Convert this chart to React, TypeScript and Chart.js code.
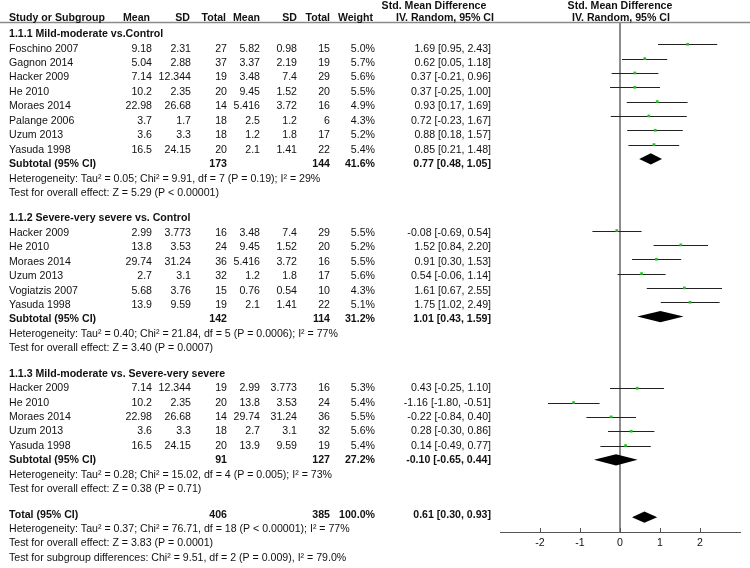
import React, { useEffect, useRef } from "react";
import { Chart, registerables } from "chart.js";
Chart.register(...registerables);

const FONT = '"Liberation Sans", Arial, sans-serif';
const FS = 10.6;

// ---------- data ----------
const groupLabels = [
  "1.1.1 Mild-moderate vs.Control",
  "1.1.2 Severe-very severe vs. Control",
  "1.1.3 Mild-moderate vs. Severe-very severe",
];
const studyGroup = [0, 0, 0, 0, 0, 0, 0, 0, 1, 1, 1, 1, 1, 1, 2, 2, 2, 2, 2];
const studyNames = [
  "Foschino 2007", "Gagnon 2014", "Hacker 2009", "He 2010", "Moraes 2014", "Palange 2006", "Uzum 2013", "Yasuda 1998",
  "Hacker 2009", "He 2010", "Moraes 2014", "Uzum 2013", "Vogiatzis 2007", "Yasuda 1998",
  "Hacker 2009", "He 2010", "Moraes 2014", "Uzum 2013", "Yasuda 1998",
];
const expMean = [9.18, 5.04, 7.14, 10.2, 22.98, 3.7, 3.6, 16.5, 2.99, 13.8, 29.74, 2.7, 5.68, 13.9, 7.14, 10.2, 22.98, 3.6, 16.5];
const expSD = [2.31, 2.88, 12.344, 2.35, 26.68, 1.7, 3.3, 24.15, 3.773, 3.53, 31.24, 3.1, 3.76, 9.59, 12.344, 2.35, 26.68, 3.3, 24.15];
const expTotal = [27, 37, 19, 20, 14, 18, 18, 20, 16, 24, 36, 32, 15, 19, 19, 20, 14, 18, 20];
const ctlMean = [5.82, 3.37, 3.48, 9.45, 5.416, 2.5, 1.2, 2.1, 3.48, 9.45, 5.416, 1.2, 0.76, 2.1, 2.99, 13.8, 29.74, 2.7, 13.9];
const ctlSD = [0.98, 2.19, 7.4, 1.52, 3.72, 1.2, 1.8, 1.41, 7.4, 1.52, 3.72, 1.8, 0.54, 1.41, 3.773, 3.53, 31.24, 3.1, 9.59];
const ctlTotal = [15, 19, 29, 20, 16, 6, 17, 22, 29, 20, 16, 17, 10, 22, 16, 24, 36, 32, 19];
const weight = [5.0, 5.7, 5.6, 5.5, 4.9, 4.3, 5.2, 5.4, 5.5, 5.2, 5.5, 5.6, 4.3, 5.1, 5.3, 5.4, 5.5, 5.6, 5.4];
const smd = [1.69, 0.62, 0.37, 0.37, 0.93, 0.72, 0.88, 0.85, -0.08, 1.52, 0.91, 0.54, 1.61, 1.75, 0.43, -1.16, -0.22, 0.28, 0.14];
const lower = [0.95, 0.05, -0.21, -0.25, 0.17, -0.23, 0.18, 0.21, -0.69, 0.84, 0.3, -0.06, 0.67, 1.02, -0.25, -1.8, -0.84, -0.3, -0.49];
const upper = [2.43, 1.18, 0.96, 1.0, 1.69, 1.67, 1.57, 1.48, 0.54, 2.2, 1.53, 1.14, 2.55, 2.49, 1.1, -0.51, 0.4, 0.86, 0.77];

const subExpTotal = [173, 142, 91];
const subCtlTotal = [144, 114, 127];
const subWeight = [41.6, 31.2, 27.2];
const subSmd = [0.77, 1.01, -0.1];
const subLower = [0.48, 0.43, -0.65];
const subUpper = [1.05, 1.59, 0.44];
const subHeterogeneity = [
  "Heterogeneity: Tau² = 0.05; Chi² = 9.91, df = 7 (P = 0.19); I² = 29%",
  "Heterogeneity: Tau² = 0.40; Chi² = 21.84, df = 5 (P = 0.0006); I² = 77%",
  "Heterogeneity: Tau² = 0.28; Chi² = 15.02, df = 4 (P = 0.005); I² = 73%",
];
const subEffect = [
  "Test for overall effect: Z = 5.29 (P < 0.00001)",
  "Test for overall effect: Z = 3.40 (P = 0.0007)",
  "Test for overall effect: Z = 0.38 (P = 0.71)",
];
const totalExp = 406;
const totalCtl = 385;
const totalWeight = 100.0;
const totalSmd = 0.61;
const totalLower = 0.3;
const totalUpper = 0.93;
const totalLines = [
  "Heterogeneity: Tau² = 0.37; Chi² = 76.71, df = 18 (P < 0.00001); I² = 77%",
  "Test for overall effect: Z = 3.83 (P = 0.0001)",
  "Test for subgroup differences: Chi² = 9.51, df = 2 (P = 0.009), I² = 79.0%",
];
const xTicks = [-2, -1, 0, 1, 2];

// ---------- row layout ----------
// returns slot indices for group headers, studies, subtotals and total, given a blank-row height
function layoutSlots(gap: number) {
  const study: number[] = [];
  const group: number[] = [];
  const sub: number[] = [];
  let s = 0;
  groupLabels.forEach((_, g) => {
    group.push(s);
    s += 1;
    studyGroup.forEach((gg, i) => {
      if (gg === g) {
        study[i] = s;
        s += 1;
      }
    });
    sub.push(s);
    s += 3 + gap;
  });
  return { study, group, sub, total: s };
}
const markSlots = layoutSlots(1); // plot rows
const textSlots = layoutSlots(0.75); // table rows

const TOP = 22;
const BOTTOM = 532;
const MARK_PITCH = 14.33;
const MARK_FIRST = 29.97; // pixel of slot 0 in plot
const Y_MIN = -(MARK_FIRST - TOP) / MARK_PITCH;
const Y_MAX = Y_MIN + (BOTTOM - TOP) / MARK_PITCH;

const TEXT_PITCH = 14.45;
const TEXT_FIRST = 33.25; // cap-centre of slot 0 text
const CAP_OFF = 3.8;
const textY = (t: number) => TEXT_FIRST + t * TEXT_PITCH + CAP_OFF;

const COL = { name: 9, mean1: 152, sd1: 191, tot1: 227, mean2: 260, sd2: 297, tot2: 330, weight: 375, ci: 491 };
const fmtCI = (e: number, l: number, u: number) => `${e.toFixed(2)} [${l.toFixed(2)}, ${u.toFixed(2)}]`;

const forestPlugin = {
  id: "forest",
  beforeDatasetsDraw(chart: any) {
    const { ctx, scales, chartArea } = chart;
    const x = scales.x;
    const y = scales.y;
    ctx.save();
    // CI whiskers
    ctx.strokeStyle = "#222";
    ctx.lineWidth = 1;
    smd.forEach((_, i) => {
      const py = Math.round(y.getPixelForValue(markSlots.study[i])) + 0.5;
      ctx.beginPath();
      ctx.moveTo(x.getPixelForValue(lower[i]), py);
      ctx.lineTo(x.getPixelForValue(upper[i]), py);
      ctx.stroke();
    });
    // diamonds
    const diamond = (e: number, l: number, u: number, s: number) => {
      const py = y.getPixelForValue(s);
      const h = 5.6;
      ctx.beginPath();
      ctx.moveTo(x.getPixelForValue(l), py);
      ctx.lineTo(x.getPixelForValue(e), py - h);
      ctx.lineTo(x.getPixelForValue(u), py);
      ctx.lineTo(x.getPixelForValue(e), py + h);
      ctx.closePath();
      ctx.fillStyle = "#000";
      ctx.fill();
    };
    subSmd.forEach((e, g) => diamond(e, subLower[g], subUpper[g], markSlots.sub[g]));
    diamond(totalSmd, totalLower, totalUpper, markSlots.total);
    // upward tick marks
    ctx.strokeStyle = "#555";
    ctx.lineWidth = 1;
    x.ticks.forEach((t: any) => {
      const px = Math.round(x.getPixelForValue(t.value)) + 0.5;
      ctx.beginPath();
      ctx.moveTo(px, chartArea.bottom);
      ctx.lineTo(px, chartArea.bottom - 4);
      ctx.stroke();
    });
    ctx.restore();
  },
  afterDraw(chart: any) {
    const { ctx } = chart;
    ctx.save();
    ctx.fillStyle = "#111";
    ctx.textBaseline = "alphabetic";
    const txt = (s: string, px: number, py: number, align: CanvasTextAlign, bold = false) => {
      ctx.font = `${bold ? "bold " : ""}${FS}px ${FONT}`;
      ctx.textAlign = align;
      ctx.fillText(s, px, py);
    };
    // header line
    ctx.strokeStyle = "#8a8a8a";
    ctx.lineWidth = 1.5;
    ctx.beginPath();
    ctx.moveTo(0, 22.5);
    ctx.lineTo(750, 22.5);
    ctx.stroke();
    // headers
    const h1 = 4.8 + CAP_OFF;
    const h2 = 17 + CAP_OFF;
    txt("Std. Mean Difference", 434, h1, "center", true);
    txt("IV. Random, 95% CI", 445, h2, "center", true);
    txt("Std. Mean Difference", 620, h1, "center", true);
    txt("IV. Random, 95% CI", 621, h2, "center", true);
    txt("Study or Subgroup", COL.name, h2, "left", true);
    txt("Mean", 150, h2, "right", true);
    txt("SD", 190, h2, "right", true);
    txt("Total", 226, h2, "right", true);
    txt("Mean", 260, h2, "right", true);
    txt("SD", 297, h2, "right", true);
    txt("Total", 330, h2, "right", true);
    txt("Weight", 373, h2, "right", true);

    groupLabels.forEach((lab, g) => txt(lab, COL.name, textY(textSlots.group[g]), "left", true));
    studyNames.forEach((n, i) => {
      const py = textY(textSlots.study[i]);
      txt(n, COL.name, py, "left");
      txt(String(expMean[i]), COL.mean1, py, "right");
      txt(String(expSD[i]), COL.sd1, py, "right");
      txt(String(expTotal[i]), COL.tot1, py, "right");
      txt(String(ctlMean[i]), COL.mean2, py, "right");
      txt(String(ctlSD[i]), COL.sd2, py, "right");
      txt(String(ctlTotal[i]), COL.tot2, py, "right");
      txt(weight[i].toFixed(1) + "%", COL.weight, py, "right");
      txt(fmtCI(smd[i], lower[i], upper[i]), COL.ci, py, "right");
    });
    textSlots.sub.forEach((s, g) => {
      const py = textY(s);
      txt("Subtotal (95% CI)", COL.name, py, "left", true);
      txt(String(subExpTotal[g]), COL.tot1, py, "right", true);
      txt(String(subCtlTotal[g]), COL.tot2, py, "right", true);
      txt(subWeight[g].toFixed(1) + "%", COL.weight, py, "right", true);
      txt(fmtCI(subSmd[g], subLower[g], subUpper[g]), COL.ci, py, "right", true);
      txt(subHeterogeneity[g], COL.name, textY(s + 1), "left");
      txt(subEffect[g], COL.name, textY(s + 2), "left");
    });
    const pt = textY(textSlots.total);
    txt("Total (95% CI)", COL.name, pt, "left", true);
    txt(String(totalExp), COL.tot1, pt, "right", true);
    txt(String(totalCtl), COL.tot2, pt, "right", true);
    txt(totalWeight.toFixed(1) + "%", COL.weight, pt, "right", true);
    txt(fmtCI(totalSmd, totalLower, totalUpper), COL.ci, pt, "right", true);
    totalLines.forEach((l, k) => txt(l, COL.name, textY(textSlots.total + 1 + k), "left"));
    ctx.restore();
  },
};

export default function App() {
  const ref = useRef<HTMLCanvasElement>(null);
  useEffect(() => {
    if (!ref.current) return;
    const chart = new Chart(ref.current, {
      type: "scatter",
      data: {
        datasets: [
          {
            data: smd.map((v, i) => ({ x: v, y: markSlots.study[i] })),
            pointStyle: "rect",
            pointRadius: 1.9,
            borderWidth: 0,
            backgroundColor: "#1cc41c",
            clip: false as any,
          },
        ],
      },
      options: {
        animation: false,
        responsive: false,
        devicePixelRatio: 1,
        layout: { padding: { left: 500, right: 10, top: TOP, bottom: 0 } },
        plugins: { legend: { display: false }, tooltip: { enabled: false } },
        scales: {
          x: {
            type: "linear",
            min: -3,
            max: 3,
            afterBuildTicks: (s: any) => {
              s.ticks = xTicks.map((v) => ({ value: v }));
            },
            afterFit: (s: any) => {
              s.height = 568 - BOTTOM;
            },
            grid: {
              drawTicks: false,
              lineWidth: 2,
              color: (c: any) => (c.tick && c.tick.value === 0 ? "#8c8c8c" : "rgba(0,0,0,0)"),
            },
            border: { color: "#555", width: 1 },
            ticks: { padding: 5, color: "#111", font: { family: FONT, size: FS } },
          },
          y: { type: "linear", display: false, reverse: true, min: Y_MIN, max: Y_MAX },
        },
      },
      plugins: [forestPlugin],
    });
    return () => chart.destroy();
  }, []);
  return (
    <div style={{ position: "fixed", left: 0, top: 0, width: 750, height: 568, background: "#fff" }}>
      <canvas ref={ref} width={750} height={568} />
    </div>
  );
}
